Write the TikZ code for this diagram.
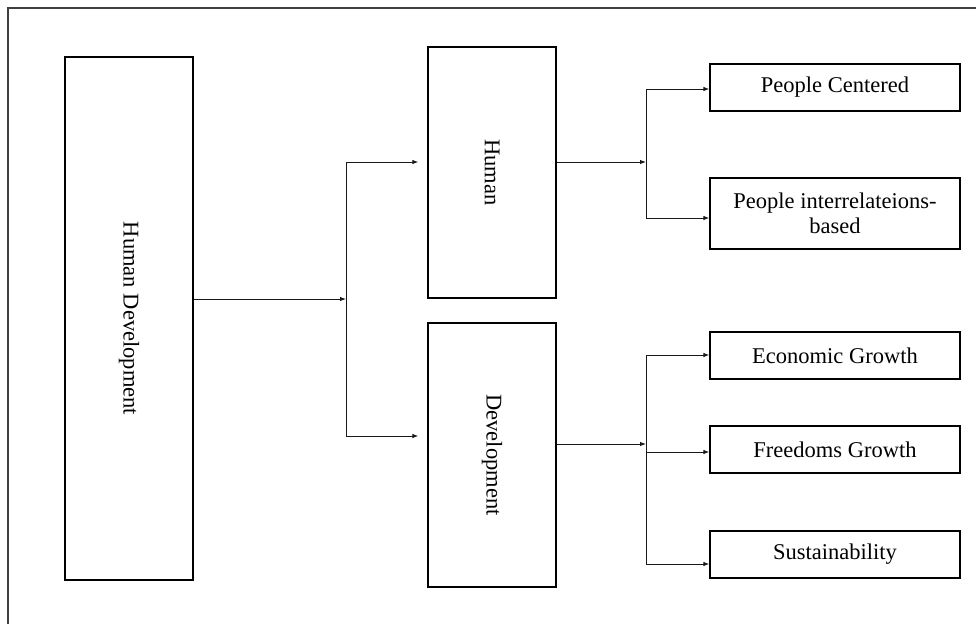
\documentclass[tikz,border=0pt]{standalone}
\usepackage{fontspec}
\setmainfont{Liberation Serif}
\usetikzlibrary{arrows.meta}
\begin{document}
\begin{tikzpicture}[x=1pt,y=-1pt,
  box/.style={draw=black, line width=1.2pt, inner sep=0pt, font=\fontsize{22.5}{25}\selectfont, align=center},
  conn/.style={draw=black!90, line width=1pt},
  arr/.style={conn, -{Latex[length=6pt,width=4.5pt]}}]
\useasboundingbox (0,0) rectangle (976,624);
\draw[black!75, line width=1.2pt] (976,8) -- (8,8) -- (8,624);
% boxes
\node[box, minimum width=128pt, minimum height=523pt] (main) at (129,318.5) {\rotatebox{-90}{Human Development}};
\node[box, minimum width=128pt, minimum height=251pt] (human) at (492,172.5) {\rotatebox{-90}{Human}};
\node[box, minimum width=128pt, minimum height=264pt] (dev) at (492,455) {\rotatebox{-90}{Development}};
\node[box, minimum width=250pt, minimum height=47pt] (pc) at (835,87.5) {People Centered};
\node[box, minimum width=250pt, minimum height=71pt] (pi) at (835,213.5) {People interrelateions-\\based};
\node[box, minimum width=250pt, minimum height=47pt] (eg) at (835,355.5) {Economic Growth};
\node[box, minimum width=250pt, minimum height=47pt] (fg) at (835,449.5) {Freedoms Growth};
\node[box, minimum width=250pt, minimum height=47pt] (su) at (835,554.5) {Sustainability};
% junction points
\coordinate (ja) at (346,299);
\coordinate (ja1) at (346,162);
\coordinate (ja2) at (346,436);
\coordinate (jb) at (646,162);
\coordinate (jb1) at (646,89);
\coordinate (jb2) at (646,218);
\coordinate (jc) at (646,444);
\coordinate (jc1) at (646,355);
\coordinate (jc2) at (646,452);
\coordinate (jc3) at (646,564);
% connectors
\draw[arr] (main.east |- ja) -- (ja);
\draw[conn] (ja1) -- (ja2);
\draw[arr, shorten >=9pt] (ja1) -- (human.west |- ja1);
\draw[arr, shorten >=9pt] (ja2) -- (dev.west |- ja2);
\draw[arr] (human.east |- jb) -- (jb);
\draw[conn] (jb1) -- (jb2);
\draw[arr] (jb1) -- (pc.west |- jb1);
\draw[arr] (jb2) -- (pi.west |- jb2);
\draw[arr] (dev.east |- jc) -- (jc);
\draw[conn] (jc1) -- (jc3);
\draw[arr] (jc1) -- (eg.west |- jc1);
\draw[arr] (jc2) -- (fg.west |- jc2);
\draw[arr] (jc3) -- (su.west |- jc3);
\end{tikzpicture}
\end{document}
